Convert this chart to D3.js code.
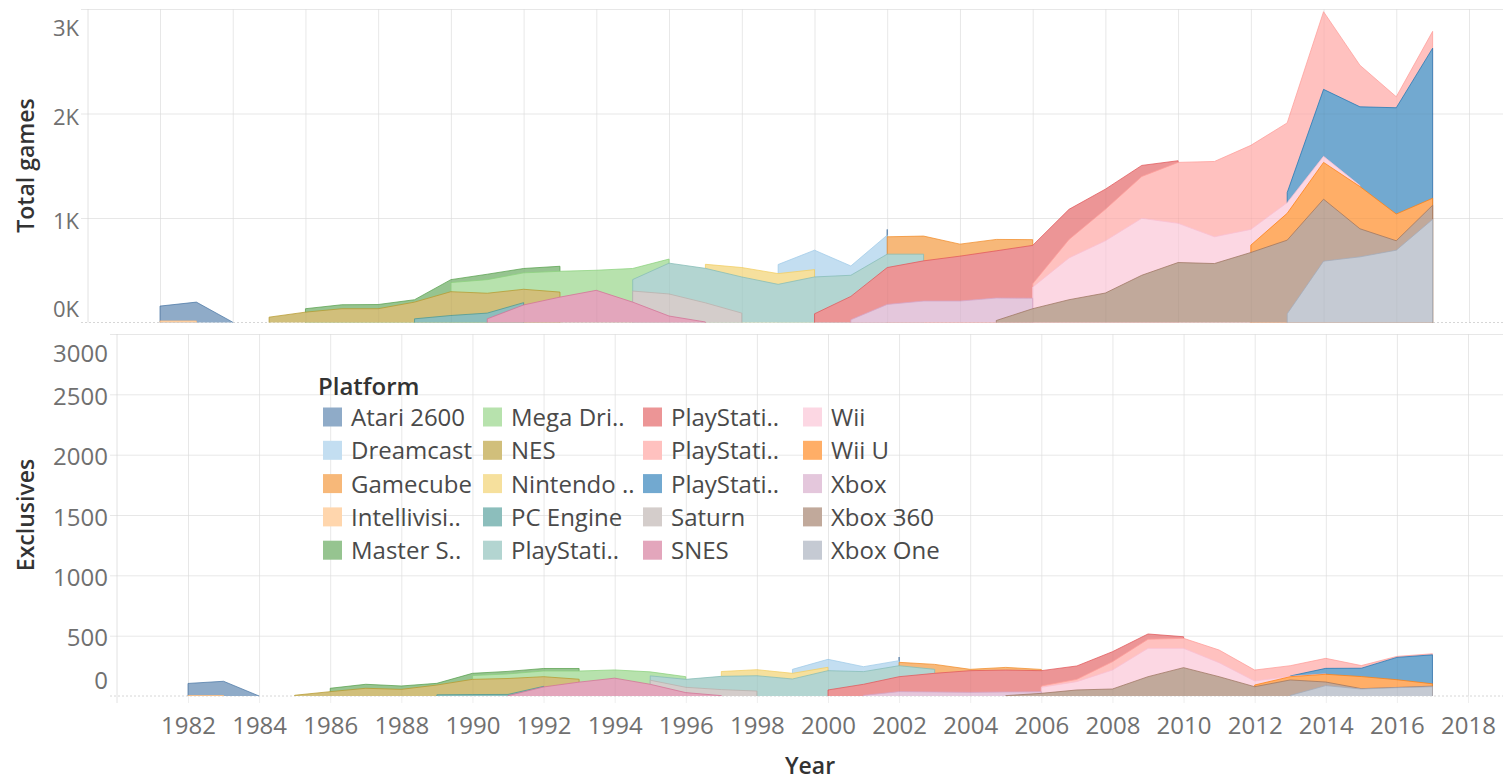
<!DOCTYPE html>
<html>
<head>
<meta charset="utf-8">
<script src="https://cdn.jsdelivr.net/npm/d3@7"></script>
<style>
  html, body { margin: 0; padding: 0; background: #fff; }
  svg { display: block; font-family: "Open Sans", "Noto Sans", sans-serif; }
</style>
</head>
<body>
<svg id="chart" width="1503" height="780"></svg>
<script>
// ---------------- DATA ----------------
const platforms = ["Atari 2600","Dreamcast","Gamecube","Intellivision","Master System","Mega Drive","NES","Nintendo 64","PC Engine","PlayStation","PlayStation 2","PlayStation 3","PlayStation 4","Saturn","SNES","Wii","Wii U","Xbox","Xbox 360","Xbox One"];
const legendLabels = ["Atari 2600","Dreamcast","Gamecube","Intellivisi..","Master S..","Mega Dri..","NES","Nintendo ..","PC Engine","PlayStati..","PlayStati..","PlayStati..","PlayStati..","Saturn","SNES","Wii","Wii U","Xbox","Xbox 360","Xbox One"];
const colors = ["#4e79a7","#a0cbe8","#f28e2b","#ffbe7d","#59a14f","#8cd17d","#b6992d","#f1ce63","#499894","#86bcb6","#e15759","#ff9d9a","#1f77b4","#bab0ac","#d37295","#fabfd2","#ff7f0e","#d4a6c8","#9d7660","#a3abb9"];

const xTicks = [1982,1984,1986,1988,1990,1992,1994,1996,1998,2000,2002,2004,2006,2008,2010,2012,2014,2016,2018];
const totalTicks = [0,1000,2000,3000];
const exclTicks = [0,500,1000,1500,2000,2500,3000];

// Total games per platform: [year, games]
const atariTotal = [[1982,142],[1983,180],[1984,3],[2002,55]];
const dreamcastTotal = [[1999,87],[2000,186],[2001,89],[2002,16]];
const gamecubeTotal = [[2002,166],[2003,173],[2004,115],[2005,109],[2006,55]];
const intellivisionTotal = [[1982,15],[1983,15]];
const masterSystemTotal = [[1986,33],[1987,38],[1988,40],[1989,23],[1990,28],[1991,52],[1992,42],[1993,48]];
const megaDriveTotal = [[1990,87],[1991,130],[1992,157],[1993,199],[1994,192],[1995,106],[1996,39]];
const nesTotal = [[1985,51],[1986,99],[1987,132],[1988,132],[1989,160],[1990,228],[1991,190],[1992,128],[1993,48]];
const n64Total = [[1997,39],[1998,90],[1999,103],[2000,70]];
const pcEngineTotal = [[1989,35],[1990,67],[1991,55],[1992,22]];
const ps1Total = [[1995,110],[1996,295],[1997,330],[1998,346],[1999,365],[2000,353],[2001,202],[2002,128],[2003,64]];
const ps2Total = [[2000,83],[2001,224],[2002,353],[2003,385],[2004,430],[2005,452],[2006,368],[2007,288],[2008,193],[2009,106],[2010,16]];
const ps3Total = [[2006,32],[2007,177],[2008,301],[2009,400],[2010,583],[2011,721],[2012,804],[2013,667],[2014,743],[2015,398],[2016,105],[2017,161]];
const ps4Total = [[2013,96],[2014,641],[2015,753],[2016,1017],[2017,1436]];
const saturnTotal = [[1995,106],[1996,211],[1997,183],[1998,90]];
const snesTotal = [[1991,35],[1992,168],[1993,243],[1994,308],[1995,195],[1996,62],[1997,5]];
const wiiTotal = [[2006,106],[2007,400],[2008,500],[2009,545],[2010,375],[2011,256],[2012,151],[2013,102],[2014,58],[2015,10]];
const wiiUTotal = [[2012,70],[2013,257],[2014,352],[2015,404],[2016,256],[2017,67]];
const xboxTotal = [[2001,26],[2002,173],[2003,205],[2004,205],[2005,215],[2006,100]];
const xbox360Total = [[2005,19],[2006,132],[2007,218],[2008,282],[2009,452],[2010,574],[2011,564],[2012,670],[2013,705],[2014,593],[2015,269],[2016,90],[2017,135]];
const xboxOneTotal = [[2013,83],[2014,587],[2015,628],[2016,692],[2017,987]];

// Exclusives per platform: [year, games]
const atariExcl = [[1982,100],[1983,118],[1984,0],[2002,30]];
const dreamcastExcl = [[1999,33],[2000,66],[2001,41],[2002,14]];
const gamecubeExcl = [[2002,28],[2003,41],[2004,11],[2005,22],[2006,10]];
const intellivisionExcl = [[1982,4],[1983,4]];
const masterSystemExcl = [[1986,28],[1987,33],[1988,28],[1989,14],[1990,19],[1991,21],[1992,21],[1993,21]];
const megaDriveExcl = [[1990,31],[1991,38],[1992,47],[1993,68],[1994,68],[1995,33],[1996,22]];
const nesExcl = [[1985,6],[1986,36],[1987,64],[1988,55],[1989,81],[1990,126],[1991,132],[1992,80],[1993,24]];
const n64Excl = [[1997,40],[1998,50],[1999,47],[2000,28]];
const pcEngineExcl = [[1989,10],[1990,12],[1991,10],[1992,5]];
const ps1Excl = [[1995,36],[1996,66],[1997,110],[1998,127],[1999,141],[2000,160],[2001,105],[2002,91],[2003,33]];
const ps2Excl = [[2000,50],[2001,92],[2002,124],[2003,155],[2004,180],[2005,182],[2006,127],[2007,111],[2008,83],[2009,44],[2010,13]];
const ps3Excl = [[2006,11],[2007,19],[2008,69],[2009,75],[2010,83],[2011,105],[2012,91],[2013,85],[2014,83],[2015,22],[2016,8],[2017,9]];
const ps4Excl = [[2013,3],[2014,46],[2015,69],[2016,185],[2017,240]];
const saturnExcl = [[1995,34],[1996,44],[1997,50],[1998,41]];
const snesExcl = [[1991,3],[1992,75],[1993,115],[1994,148],[1995,97],[1996,28],[1997,3]];
const wiiExcl = [[2006,37],[2007,69],[2008,157],[2009,235],[2010,160],[2011,116],[2012,33],[2013,3],[2014,3]];
const wiiUExcl = [[2012,14],[2013,27],[2014,64],[2015,100],[2016,64],[2017,19]];
const xboxExcl = [[2001,5],[2002,36],[2003,33],[2004,30],[2005,30],[2006,13]];
const xbox360Excl = [[2005,3],[2006,22],[2007,50],[2008,58],[2009,160],[2010,235],[2011,160],[2012,77],[2013,128],[2014,30],[2015,3],[2016,2],[2017,5]];
const xboxOneExcl = [[2013,5],[2014,86],[2015,58],[2016,69],[2017,77]];

const totalSeries = [atariTotal,dreamcastTotal,gamecubeTotal,intellivisionTotal,masterSystemTotal,megaDriveTotal,nesTotal,n64Total,pcEngineTotal,ps1Total,ps2Total,ps3Total,ps4Total,saturnTotal,snesTotal,wiiTotal,wiiUTotal,xboxTotal,xbox360Total,xboxOneTotal];
const exclSeries = [atariExcl,dreamcastExcl,gamecubeExcl,intellivisionExcl,masterSystemExcl,megaDriveExcl,nesExcl,n64Excl,pcEngineExcl,ps1Excl,ps2Excl,ps3Excl,ps4Excl,saturnExcl,snesExcl,wiiExcl,wiiUExcl,xboxExcl,xbox360Excl,xboxOneExcl];

// ---------------- CHART ----------------
const W = 1503;
const svg = d3.select("#chart");
const MARK_OP = 0.63;
const fillColor = c => d3.interpolateRgb("#ffffff", c)(MARK_OP);
const GRID = "#efefef";
const TICK_TXT = "#707070";

const xTop = d3.scaleLinear().domain([1982, 2018]).range([160, 1469]);
const xBot = d3.scaleLinear().domain([1982, 2018]).range([188, 1468]);
const yTop = d3.scaleLinear().domain([0, 3000]).range([322.5, 9]);
const yBot = d3.scaleLinear().domain([0, 3000]).range([696, 334]);

function gridLayer(g, x, y, left, top, bottom, tickVals, xAxisExtra, color, opacity) {
  const xa = g.append("g").attr("transform", `translate(0,${bottom + xAxisExtra})`)
    .call(d3.axisBottom(x).tickValues(xTicks).tickSize(-(bottom + xAxisExtra - top)).tickFormat(d3.format("d")).tickPadding(0));
  xa.select(".domain").remove();
  xa.selectAll(".tick line").attr("stroke", color).attr("stroke-opacity", opacity);
  const ya = g.append("g").attr("transform", `translate(${left},0)`)
    .call(d3.axisLeft(y).tickValues(tickVals.filter(d => d > 0)).tickSize(-(W - left)).tickFormat(""));
  ya.select(".domain").remove();
  ya.selectAll(".tick line").attr("stroke", color).attr("stroke-opacity", opacity).attr("x1", -7);
  ya.selectAll(".tick text").remove();
  return xa;
}

function panel(opt) {
  const {x, y, left, top, bottom, tickVals, fmt, fontSize, labelShift, clampTop, clampBot, series, xAxisExtra, showXLabels} = opt;
  const g = svg.append("g");

  // grid beneath marks
  const xa = gridLayer(g, x, y, left, top, bottom, tickVals, xAxisExtra, GRID, 1);
  if (showXLabels) {
    xa.selectAll(".tick text")
      .attr("dy", null).attr("y", 22 + 0.357 * 24)
      .attr("font-size", 24).attr("fill", TICK_TXT).attr("font-family", "Open Sans");
  } else {
    xa.selectAll(".tick text").remove();
  }

  // y tick labels + zero line
  const ya = g.append("g").attr("transform", `translate(${left},0)`)
    .call(d3.axisLeft(y).tickValues(tickVals).tickSize(0).tickPadding(9).tickFormat(fmt));
  ya.select(".domain").remove();
  ya.selectAll(".tick line").remove();
  ya.selectAll(".tick text")
    .attr("font-size", fontSize).attr("fill", TICK_TXT).attr("font-family", "Open Sans")
    .attr("dy", null)
    .attr("y", d => {
      const gy = y(d);
      const c = Math.max(clampTop, Math.min(clampBot, gy + labelShift));
      return c - gy + 0.357 * fontSize;
    });
  g.append("line").attr("x1", left - 7).attr("x2", W).attr("y1", y(0)).attr("y2", y(0))
    .attr("stroke", "#d6d6d6").attr("stroke-dasharray", "2,2");

  // left axis line
  g.append("line").attr("x1", left).attr("x2", left).attr("y1", top).attr("y2", bottom + xAxisExtra)
    .attr("stroke", "#e2e2e2");

  // stacked cumulative tops (last platform at the bottom of the stack)
  const years = d3.range(1980, 2020);
  const cum = new Map(years.map(yr => [yr, 0]));
  const layers = [];
  for (let i = platforms.length - 1; i >= 0; i--) {
    const m = new Map(series[i]);
    const pts = years.map(yr => ({year: yr, def: m.has(yr), top: cum.get(yr) + (m.has(yr) ? m.get(yr) : 0)}));
    years.forEach(yr => { if (m.has(yr)) cum.set(yr, cum.get(yr) + m.get(yr)); });
    const runs = [];
    let cur = null;
    pts.forEach(p => {
      if (p.def) { if (!cur) { cur = []; runs.push(cur); } cur.push(p); }
      else cur = null;
    });
    layers.push({i, pts, runs});
  }
  // draw from the top of the stack (back) to the bottom (front)
  layers.sort((a, b) => a.i - b.i);
  const area = d3.area().defined(d => d.def)
    .x(d => x(d.year)).y0(y(0)).y1(d => y(d.top));
  const line = d3.line().x(d => x(d.year)).y(d => y(d.v));
  const mg = g.append("g");
  layers.forEach(L => {
    const lg = mg.append("g");
    lg.append("path").attr("d", area(L.pts)).attr("fill", fillColor(colors[L.i]));
    L.runs.forEach(run => {
      const pts = [{year: run[0].year, v: 0}]
        .concat(run.map(p => ({year: p.year, v: p.top})))
        .concat([{year: run[run.length - 1].year, v: 0}]);
      lg.append("path").attr("d", line(pts)).attr("fill", "none")
        .attr("stroke", colors[L.i]).attr("stroke-opacity", 0.75)
        .attr("stroke-width", 1).attr("stroke-linejoin", "round");
    });
  });

  // faint grid showing through the translucent marks
  gridLayer(g, x, y, left, top, bottom, tickVals, 0, "#000", 0.03)
    .selectAll(".tick text").remove();
  return g;
}

panel({x: xTop, y: yTop, left: 88, top: 9, bottom: 322.5, tickVals: totalTicks,
  fmt: d => (d / 1000) + "K", fontSize: 22, labelShift: 3, clampTop: 27.5, clampBot: 308.5,
  series: totalSeries, xAxisExtra: 0, showXLabels: false});

panel({x: xBot, y: yBot, left: 117, top: 334, bottom: 696, tickVals: exclTicks,
  fmt: d3.format("d"), fontSize: 24, labelShift: 1.5, clampTop: 353, clampBot: 680,
  series: exclSeries, xAxisExtra: 7, showXLabels: true});

// axis titles
svg.append("text").attr("transform", "translate(34,165.5) rotate(-90)")
  .attr("text-anchor", "middle").attr("font-size", 23).attr("font-weight", 600)
  .attr("fill", "#333").text("Total games");
svg.append("text").attr("transform", "translate(34,515) rotate(-90)")
  .attr("text-anchor", "middle").attr("font-size", 23).attr("font-weight", 600)
  .attr("fill", "#333").text("Exclusives");
svg.append("text").attr("x", 810).attr("y", 774)
  .attr("text-anchor", "middle").attr("font-size", 23).attr("font-weight", 600)
  .attr("fill", "#333").text("Year");

// legend
const lg = svg.append("g");
lg.append("text").attr("x", 318).attr("y", 395).attr("font-size", 24).attr("font-weight", 600)
  .attr("fill", "#333").text("Platform");
const items = lg.selectAll("g.item").data(platforms).join("g").attr("class", "item")
  .attr("transform", (d, i) => `translate(${323 + 160 * Math.floor(i / 5)},${417.5 + 33.3 * (i % 5)})`);
items.append("rect").attr("x", 0).attr("y", -10).attr("width", 19).attr("height", 19)
  .attr("fill", (d, i) => fillColor(colors[i]));
items.append("text").attr("x", 28).attr("y", 0.357 * 24).attr("font-size", 24)
  .attr("fill", "#4a4a4a").text((d, i) => legendLabels[i]);
</script>
</body>
</html>
